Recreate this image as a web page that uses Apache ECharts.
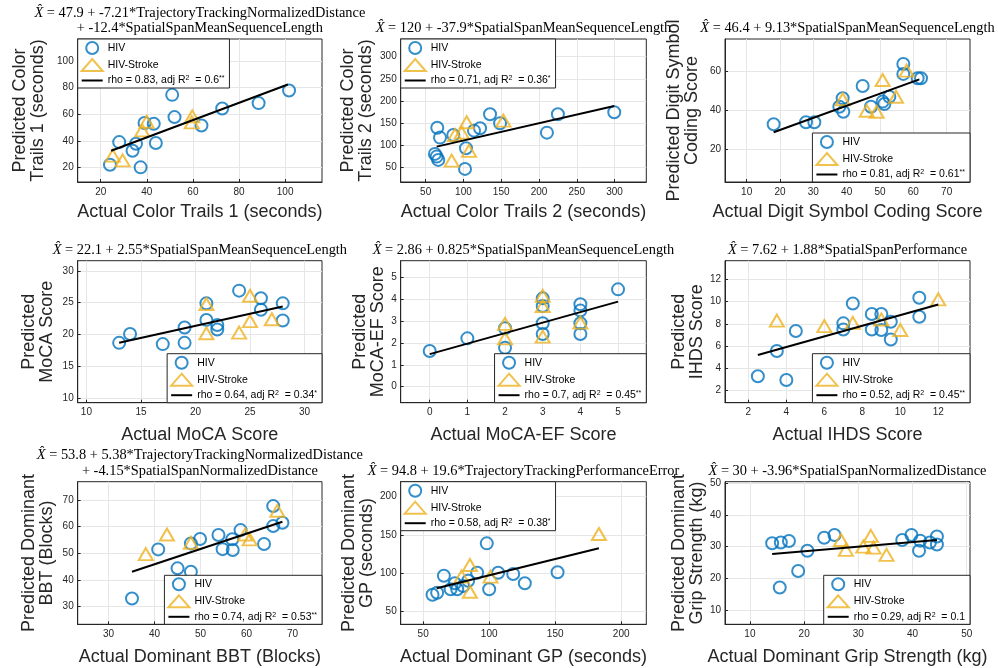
<!DOCTYPE html>
<html>
<head>
<meta charset="utf-8">
<script src="https://cdn.jsdelivr.net/npm/echarts@6/dist/echarts.min.js"></script>
<style>
  html, body { margin: 0; padding: 0; background: #fff; }
  #chart { width: 998px; height: 668px; }
</style>
</head>
<body>
<div id="chart"></div>
<script>
// ---- Color Trails 1 ----
const ct1HivX = [24, 28, 33.8, 35.3, 37.3, 39, 43, 43.9, 51, 52, 63.7, 72.7, 88.5, 101.7];
const ct1HivY = [22, 39, 32.5, 37.8, 20, 53.3, 52.8, 38.3, 74.5, 57.8, 51.5, 64.3, 68.3, 77.8];
const ct1StrokeX = [25.2, 29.5, 38, 39.9, 59.7, 59.5];
const ct1StrokeY = [28.8, 25.3, 47.8, 54.3, 58.3, 53.8];
const ct1FitX = [24.5, 101.2];
const ct1FitY = [32.5, 82.3];
const ct1Ticks = [20, 40, 60, 80, 100];

// ---- Color Trails 2 ----
const ct2HivX = [65.4, 69, 62.3, 64.6, 66.7, 86.6, 103.4, 102.1, 114, 122, 135.2, 148.5, 210.5, 225, 299.6];
const ct2HivY = [140, 117.6, 80.9, 74.8, 67.3, 123.6, 93.7, 47, 133.3, 138.7, 170.3, 150, 128.8, 170.3, 174.8];
const ct2StrokeX = [84.5, 88.8, 97.7, 104.3, 107.4, 152.9];
const ct2StrokeY = [65.8, 123.6, 128.8, 152.3, 87.6, 155.9];
const ct2FitX = [64.6, 299.6];
const ct2FitY = [97.3, 189];
const ct2Ticks = [50, 100, 150, 200, 250, 300];

// ---- Digit Symbol Coding ----
const dscHivX = [18.1, 27.8, 30.3, 37.8, 39, 38.8, 44.8, 47.3, 50.8, 51.3, 52.8, 57, 57, 61.3, 62.3];
const dscHivY = [32.7, 33.7, 33.7, 41.7, 39.1, 46, 52.3, 41.7, 44.3, 43.1, 46.8, 63.6, 58.5, 56.3, 56.3];
const dscStrokeX = [38.8, 46, 49, 50.8, 54.8, 58];
const dscStrokeY = [45.5, 39.6, 39.1, 55.4, 46.8, 60.2];
const dscFitX = [18.1, 61.8];
const dscFitY = [28.6, 55.7];
const dscTicksX = [10, 20, 30, 40, 50, 60, 70];
const dscTicksY = [20, 40, 60];

// ---- MoCA ----
const mocaHivX = [13, 14, 17, 19, 19, 21, 21, 22, 22, 24, 26, 26, 28, 28];
const mocaHivY = [18.7, 20.1, 18.5, 21.1, 18.7, 24.9, 22.3, 21.5, 20.8, 26.9, 25.7, 23.9, 24.9, 22.2];
const mocaStrokeX = [21, 21, 24, 25, 25, 27];
const mocaStrokeY = [24.8, 20.2, 20.3, 26.1, 22.1, 22.4];
const mocaFitX = [13, 28];
const mocaFitY = [18.7, 24.4];
const mocaTicks = [10, 15, 20, 25, 30];

// ---- MoCA-EF ----
const mocaEfHivX = [0, 1, 2, 2, 3, 3, 3, 3, 4, 4, 4, 4, 5];
const mocaEfHivY = [1.63, 2.21, 1.78, 2.67, 4.04, 3.69, 2.9, 2.41, 3.77, 3.48, 2.9, 2.41, 4.45];
const mocaEfStrokeX = [2, 2, 3, 3, 3, 4];
const mocaEfStrokeY = [2.87, 2.21, 4.15, 3.69, 2.29, 2.93];
const mocaEfFitX = [0, 5];
const mocaEfFitY = [1.49, 3.89];
const mocaEfTicks = [0, 1, 2, 3, 4, 5];

// ---- IHDS ----
const ihdsHivX = [2.5, 3.5, 4, 4.5, 7, 7, 7.5, 8.5, 8.5, 9, 9, 9.5, 9.5, 11, 11];
const ihdsHivY = [3.3, 5.56, 2.96, 7.36, 8.05, 7.5, 9.84, 8.89, 7.5, 8.89, 7.45, 8.2, 6.6, 10.35, 8.65];
const ihdsStrokeX = [3.5, 6, 7.5, 9, 10, 12];
const ihdsStrokeY = [8.29, 7.8, 8.1, 8.4, 7.45, 10.2];
const ihdsFitX = [2.5, 12];
const ihdsFitY = [5.2, 9.75];
const ihdsTicks = [2, 4, 6, 8, 10, 12];

// ---- Dominant BBT ----
const bbtHivX = [35.1, 40.8, 45, 47.9, 47.9, 49.9, 53.9, 54.8, 56.9, 57, 58.7, 63.8, 65.8, 65.8, 67.8];
const bbtHivY = [33.1, 51.5, 44.4, 43.1, 53.75, 55.4, 56.9, 51.6, 55.3, 51.3, 58.75, 53.5, 60.25, 67.75, 61.5];
const bbtStrokeX = [38.1, 42.7, 47.9, 59.7, 60.7, 66.7];
const bbtStrokeY = [49.75, 57.1, 54, 57.1, 55.25, 66];
const bbtFitX = [35.1, 67.8];
const bbtFitY = [43.1, 61.9];
const bbtTicks = [30, 40, 50, 60, 70];

// ---- Dominant GP ----
const gpHivX = [57.1, 60.6, 65.7, 70.8, 75.8, 74, 80.3, 84.1, 90.9, 98.2, 100, 106.8, 118.2, 127, 151.8];
const gpHivY = [72.1, 74.7, 96.9, 79.2, 79.2, 87, 83.5, 90.4, 100.8, 139, 79.2, 100.8, 99.1, 87, 101.3];
const gpStrokeX = [79.1, 85.4, 85.4, 101, 183.1];
const gpStrokeY = [95.6, 110.8, 76, 95.6, 151.2];
const gpFitX = [60.2, 183.1];
const gpFitY = [80.5, 132.6];
const gpTicks = [50, 100, 150, 200];

// ---- Dominant Grip Strength ----
const gripHivX = [14.1, 15.7, 17.2, 15.5, 18.9, 20.6, 23.7, 25.6, 38.1, 39.8, 41.4, 41.2, 43.2, 44.5, 44.5];
const gripHivY = [31.1, 31.3, 31.8, 17.1, 22.3, 28.7, 32.8, 33.7, 32.1, 33.7, 31.9, 28.7, 31.3, 33.2, 30.7];
const gripStrokeX = [26.8, 27.7, 30.9, 32.3, 32.8, 35.2];
const gripStrokeY = [32.1, 29, 30, 33.4, 29.7, 27.4];
const gripFitX = [14.1, 44.5];
const gripFitY = [27.7, 32.1];
const gripTicks = [10, 20, 30, 40, 50];

// ---- Text ----
const titles = [
  ['X\u0302 = 47.9 + -7.21*TrajectoryTrackingNormalizedDistance', '+ -12.4*SpatialSpanMeanSequenceLength'],
  ['X\u0302 = 120 + -37.9*SpatialSpanMeanSequenceLength'],
  ['X\u0302 = 46.4 + 9.13*SpatialSpanMeanSequenceLength'],
  ['X\u0302 = 22.1 + 2.55*SpatialSpanMeanSequenceLength'],
  ['X\u0302 = 2.86 + 0.825*SpatialSpanMeanSequenceLength'],
  ['X\u0302 = 7.62 + 1.88*SpatialSpanPerformance'],
  ['X\u0302 = 53.8 + 5.38*TrajectoryTrackingNormalizedDistance', '+ -4.15*SpatialSpanNormalizedDistance'],
  ['X\u0302 = 94.8 + 19.6*TrajectoryTrackingPerformanceError'],
  ['X\u0302 = 30 + -3.96*SpatialSpanNormalizedDistance']
];
const xNames = [
  'Actual Color Trails 1 (seconds)', 'Actual Color Trails 2 (seconds)', 'Actual Digit Symbol Coding Score',
  'Actual MoCA Score', 'Actual MoCA-EF Score', 'Actual IHDS Score',
  'Actual Dominant BBT (Blocks)', 'Actual Dominant GP (seconds)', 'Actual Dominant Grip Strength (kg)'
];
const yNames = [
  'Predicted Color\nTrails 1 (seconds)', 'Predicted Color\nTrails 2 (seconds)', 'Predicted Digit Symbol\nCoding Score',
  'Predicted\nMoCA Score', 'Predicted\nMoCA-EF Score', 'Predicted\nIHDS Score',
  'Predicted Dominant\nBBT (Blocks)', 'Predicted Dominant\nGP (seconds)', 'Predicted Dominant\nGrip Strength (kg)'
];
const fitNames = [
  'rho = 0.83, adj R^2  = 0.6**', 'rho = 0.71, adj R^2  = 0.36*', 'rho = 0.81, adj R^2  = 0.61**',
  'rho = 0.64, adj R^2  = 0.34*', 'rho = 0.7, adj R^2  = 0.45**', 'rho = 0.52, adj R^2  = 0.45**',
  'rho = 0.74, adj R^2  = 0.53**', 'rho = 0.58, adj R^2  = 0.38*', 'rho = 0.29, adj R^2  = 0.1'
];

// ---- Layout and styling ----
const BLUE = '#0072BD', GOLD = '#EDB120', INK = '#262626', GRID = '#e6e6e6';
const SANS = 'Liberation Sans, Arial, sans-serif';
const SERIF = 'Liberation Serif, Times New Roman, serif';
const colLeft = [77.7, 400.7, 725];
const colWidth = [244.3, 245.6, 245];
const rowTop = [39, 260.7, 481.7];
const rowHeight = [143, 142, 142.6];
// a flat bar used as the legend key of each fitted line
const LINE_KEY = 'path://M0,0L21,0L21,2L0,2Z';

const panels = [
  { hx: ct1HivX, hy: ct1HivY, sx: ct1StrokeX, sy: ct1StrokeY, fx: ct1FitX, fy: ct1FitY, xt: ct1Ticks, yt: ct1Ticks,
    xr: [10, 116], yr: [9, 116.5], legend: 'tl', yGap: 30.4, titleY: [13, 28] },
  { hx: ct2HivX, hy: ct2HivY, sx: ct2StrokeX, sy: ct2StrokeY, fx: ct2FitX, fy: ct2FitY, xt: ct2Ticks, yt: ct2Ticks,
    xr: [17, 342], yr: [17.5, 340], legend: 'tl', yGap: 25.7, titleY: [28] },
  { hx: dscHivX, hy: dscHivY, sx: dscStrokeX, sy: dscStrokeY, fx: dscFitX, fy: dscFitY, xt: dscTicksX, yt: dscTicksY,
    xr: [3.5, 77], yr: [3.1, 76.4], legend: 'br', yGap: 24, titleY: [28] },
  { hx: mocaHivX, hy: mocaHivY, sx: mocaStrokeX, sy: mocaStrokeY, fx: mocaFitX, fy: mocaFitY, xt: mocaTicks, yt: mocaTicks,
    xr: [9.2, 31.6], yr: [9.3, 31.6], legend: 'br', yGap: 22, titleY: [250] },
  { hx: mocaEfHivX, hy: mocaEfHivY, sx: mocaEfStrokeX, sy: mocaEfStrokeY, fx: mocaEfFitX, fy: mocaEfFitY, xt: mocaEfTicks, yt: mocaEfTicks,
    xr: [-0.77, 5.75], yr: [-0.73, 5.76], legend: 'br', yGap: 12, titleY: [250] },
  { hx: ihdsHivX, hy: ihdsHivY, sx: ihdsStrokeX, sy: ihdsStrokeY, fx: ihdsFitX, fy: ihdsFitY, xt: ihdsTicks, yt: ihdsTicks,
    xr: [0.77, 13.67], yr: [0.92, 13.68], legend: 'br', yGap: 17.7, titleY: [250] },
  { hx: bbtHivX, hy: bbtHivY, sx: bbtStrokeX, sy: bbtStrokeY, fx: bbtFitX, fy: bbtFitY, xt: bbtTicks, yt: bbtTicks,
    xr: [23.3, 76.4], yr: [23.4, 76.9], legend: 'br', yGap: 22, titleY: [455, 471] },
  { hx: gpHivX, hy: gpHivY, sx: gpStrokeX, sy: gpStrokeY, fx: gpFitX, fy: gpFitY, xt: gpTicks, yt: gpTicks,
    xr: [33, 219], yr: [33.6, 219.3], legend: 'tl', yGap: 23.7, titleY: [471] },
  { hx: gripHivX, hy: gripHivY, sx: gripStrokeX, sy: gripStrokeY, fx: gripFitX, fy: gripFitY, xt: gripTicks, yt: gripTicks,
    xr: [5.4, 50.6], yr: [5.5, 50.5], legend: 'br', yGap: 19.3, titleY: [471] }
];
const xNameGap = [19.7, 22.3, 22.4];

const zip = (a, b) => a.map((v, i) => [v, b[i]]);
const legendFormatter = name => name
  .replace('^2', '{s|2}')
  .replace(/(\*+)$/, '{s|$1}');

const option = {
  animation: false,
  backgroundColor: '#fff',
  title: [], grid: [], xAxis: [], yAxis: [], legend: [], series: []
};

panels.forEach((p, i) => {
  const r = Math.floor(i / 3), c = i % 3;
  const left = colLeft[c], top = rowTop[r], w = colWidth[c], h = rowHeight[r];

  option.grid.push({
    left: left, top: top, width: w, height: h,
    containLabel: false, outerBoundsMode: 'none',
    show: true, borderColor: INK, borderWidth: 1, backgroundColor: '#fff'
  });

  titles[i].forEach((line, k) => {
    option.title.push({
      text: line.replace('X\u0302', '{i|X\u0302}'),
      left: left + w / 2, top: p.titleY[k],
      textAlign: 'center', textVerticalAlign: 'middle', padding: 0,
      textStyle: {
        fontFamily: SERIF, fontSize: 14.4, fontWeight: 'normal', color: '#000',
        rich: { i: { fontFamily: SERIF, fontSize: 14.4, fontStyle: 'italic', color: '#000' } }
      }
    });
  });

  const axisCommon = {
    type: 'value', gridIndex: i, nameLocation: 'middle',
    axisLine: { show: true, onZero: false, lineStyle: { color: INK, width: 1 } },
    splitLine: { show: true, lineStyle: { color: GRID, width: 1 } }
  };
  option.xAxis.push(Object.assign({}, axisCommon, {
    min: p.xr[0], max: p.xr[1], name: xNames[i], nameGap: xNameGap[r],
    nameTextStyle: { fontFamily: SANS, fontSize: 18, color: INK, lineHeight: 20 },
    axisTick: { show: true, inside: true, length: 3, lineStyle: { color: INK }, customValues: p.xt },
    axisLabel: { customValues: p.xt, margin: 5, fontFamily: SANS, fontSize: 10, color: INK }
  }));
  option.yAxis.push(Object.assign({}, axisCommon, {
    min: p.yr[0], max: p.yr[1], name: yNames[i], nameGap: p.yGap, nameRotate: 90,
    nameTextStyle: { fontFamily: SANS, fontSize: 18, color: INK, lineHeight: 18, align: 'center' },
    axisTick: { show: true, inside: true, length: 3, lineStyle: { color: INK }, customValues: p.yt },
    axisLabel: { customValues: p.yt, margin: 4, fontFamily: SANS, fontSize: 10, color: INK }
  }));

  option.series.push({
    type: 'scatter', name: 'HIV', xAxisIndex: i, yAxisIndex: i, silent: true,
    data: zip(p.hx, p.hy), symbol: 'circle', symbolSize: 12,
    itemStyle: { color: 'rgba(255,255,255,0)', borderColor: BLUE, borderWidth: 2 }
  });
  option.series.push({
    type: 'scatter', name: 'HIV-Stroke', xAxisIndex: i, yAxisIndex: i, silent: true,
    data: zip(p.sx, p.sy), symbol: 'triangle', symbolSize: [14, 12],
    itemStyle: { color: 'rgba(255,255,255,0)', borderColor: GOLD, borderWidth: 2 }
  });
  option.series.push({
    type: 'line', name: fitNames[i], xAxisIndex: i, yAxisIndex: i, silent: true,
    data: zip(p.fx, p.fy), symbol: 'none',
    itemStyle: { color: '#000' },
    lineStyle: { color: '#000', width: 2 }
  });

  const lg = {
    orient: 'vertical', padding: [2, 5, 2, 3], itemGap: 3, itemWidth: 21, itemHeight: 12,
    backgroundColor: '#fff', borderColor: INK, borderWidth: 1, borderRadius: 0,
    selectedMode: false, z: 10,
    formatter: legendFormatter,
    textStyle: {
      fontFamily: SANS, fontSize: 10.5, color: '#000',
      rich: { s: { fontFamily: SANS, fontSize: 7, color: '#000', verticalAlign: 'top', lineHeight: 7 } }
    },
    data: [
      { name: 'HIV' },
      { name: 'HIV-Stroke' },
      { name: fitNames[i], icon: LINE_KEY, itemStyle: { color: '#000', borderWidth: 0 } }
    ]
  };
  if (p.legend === 'tl') {
    lg.left = left; lg.top = top;
  } else {
    lg.right = 998 - (left + w); lg.bottom = 668 - (top + h);
  }
  option.legend.push(lg);
});

const chart = echarts.init(document.getElementById('chart'), null, { renderer: 'canvas' });
chart.setOption(option);
</script>
</body>
</html>
